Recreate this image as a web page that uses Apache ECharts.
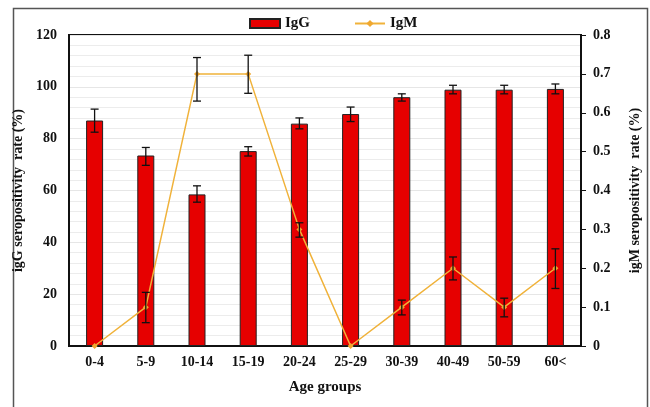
<!DOCTYPE html>
<html>
<head>
<meta charset="utf-8">
<script src="https://cdn.jsdelivr.net/npm/echarts@6/dist/echarts.min.js"></script>
<style>html,body{margin:0;padding:0;background:#fff}#c{width:650px;height:407px}</style>
</head>
<body>
<div id="c"></div>
<script>
const categories = ['0-4','5-9','10-14','15-19','20-24','25-29','30-39','40-49','50-59','60<'];
const iggValues = [87, 73.5, 58.5, 75.2, 85.8, 89.5, 96, 98.9, 98.9, 99.2];
const iggLow = [82.5, 69.7, 55.5, 73.3, 83.8, 86.6, 94.5, 97.3, 97.3, 97.3];
const iggHigh = [91.4, 76.6, 61.8, 76.9, 88.0, 92.2, 97.3, 100.6, 100.6, 101.1];
const igmValues = [0, 0.1, 0.7, 0.7, 0.3, 0, 0.1, 0.2, 0.1, 0.2];
const igmLow = [null, 0.06, 0.63, 0.65, 0.28, null, 0.08, 0.17, 0.075, 0.148];
const igmHigh = [null, 0.138, 0.742, 0.748, 0.317, null, 0.118, 0.229, 0.123, 0.25];
const leftTicks = [0, 20, 40, 60, 80, 100, 120];
const rightTicks = [0, 0.1, 0.2, 0.3, 0.4, 0.5, 0.6, 0.7, 0.8];

const font = 'Liberation Serif';
function errData(low, high) {
  const d = [];
  for (let i = 0; i < categories.length; i++) {
    if (low[i] != null) d.push([i, low[i], high[i]]);
  }
  return d;
}
function errRender(params, api) {
  const x = api.value(0);
  const lo = api.coord([x, api.value(1)]);
  const hi = api.coord([x, api.value(2)]);
  const hw = 4;
  const style = { stroke: '#111', lineWidth: 1.3 };
  return {
    type: 'group',
    children: [
      { type: 'line', shape: { x1: lo[0], y1: lo[1], x2: hi[0], y2: hi[1] }, style },
      { type: 'line', shape: { x1: lo[0]-hw, y1: lo[1], x2: lo[0]+hw, y2: lo[1] }, style },
      { type: 'line', shape: { x1: hi[0]-hw, y1: hi[1], x2: hi[0]+hw, y2: hi[1] }, style }
    ]
  };
}
const chart = echarts.init(document.getElementById('c'), null, { renderer: 'canvas' });
chart.setOption({
  animation: false,
  backgroundColor: '#fff',
  graphic: [{
    type: 'rect', left: 11, top: 6, shape: { width: 634, height: 430 },
    style: { fill: 'none', stroke: '#555', lineWidth: 1.5 }, silent: true, z: -1
  }],
  legend: {
    top: 11, left: 244, itemWidth: 30, itemHeight: 9, itemGap: 44,
    textStyle: { fontFamily: font, fontWeight: 'bold', fontSize: 15, color: '#111' },
    data: [{ name: 'IgG', icon: 'rect' }, { name: 'IgM' }]
  },
  grid: { left: 69, right: 64, top: 35, bottom: 61, show: true, borderColor: '#111', borderWidth: 2, containLabel: false },
  xAxis: {
    type: 'category', data: categories,
    axisLine: { lineStyle: { color: '#111', width: 2 } },
    axisTick: { show: false },
    axisLabel: { margin: 9, fontFamily: font, fontWeight: 'bold', fontSize: 14, color: '#111' },
    name: 'Age groups', nameLocation: 'middle', nameGap: 34,
    nameTextStyle: { fontFamily: font, fontWeight: 'bold', fontSize: 15, color: '#111' }
  },
  yAxis: [{
    type: 'value', min: 0, max: 120, interval: 20,
    axisLine: { show: true, lineStyle: { color: '#111', width: 2 } },
    axisTick: { show: false },
    axisLabel: { margin: 12, fontFamily: font, fontWeight: 'bold', fontSize: 14, color: '#111',
      formatter: v => leftTicks.includes(v) ? String(v) : '' },
    splitLine: { show: true, lineStyle: { color: '#e6e6e6', width: 1 } },
    minorTick: { show: false, splitNumber: 5 },
    minorSplitLine: { show: true, lineStyle: { color: '#ececec', width: 1 } },
    name: 'igG seropositivity  rate (%)', nameLocation: 'middle', nameGap: 32, nameRotate: 90,
    nameTextStyle: { fontFamily: font, fontWeight: 'bold', fontSize: 14, color: '#111' }
  }, {
    type: 'value', min: 0, max: 0.8, interval: 0.1, position: 'right',
    axisLine: { show: true, lineStyle: { color: '#111', width: 2 } },
    axisTick: { show: true, length: 5, lineStyle: { color: '#111', width: 1 } },
    axisLabel: { margin: 12, fontFamily: font, fontWeight: 'bold', fontSize: 14, color: '#111',
      formatter: v => { const t = rightTicks.find(r => Math.abs(r - v) < 1e-9); return t === undefined ? '' : String(t); } },
    splitLine: { show: false },
    name: 'igM seropositivity  rate (%)', nameLocation: 'middle', nameGap: 47, nameRotate: 90,
    nameTextStyle: { fontFamily: font, fontWeight: 'bold', fontSize: 14, color: '#111' }
  }],
  series: [{
    name: 'IgG', type: 'bar', data: iggValues, yAxisIndex: 0, barWidth: 17,
    itemStyle: { color: '#e60000', borderColor: '#222', borderWidth: 1 }, z: 2
  }, {
    name: 'IgG err', type: 'custom', yAxisIndex: 0, data: errData(iggLow, iggHigh),
    renderItem: errRender, z: 5, silent: true
  }, {
    name: 'IgM', type: 'line', data: igmValues, yAxisIndex: 1,
    symbol: 'diamond', symbolSize: 6, showSymbol: true,
    lineStyle: { color: '#f0b23a', width: 1.5 },
    itemStyle: { color: '#f0a830' }, z: 4
  }, {
    name: 'IgM err', type: 'custom', yAxisIndex: 1, data: errData(igmLow, igmHigh),
    renderItem: errRender, z: 6, silent: true
  }]
});
</script>
</body>
</html>
